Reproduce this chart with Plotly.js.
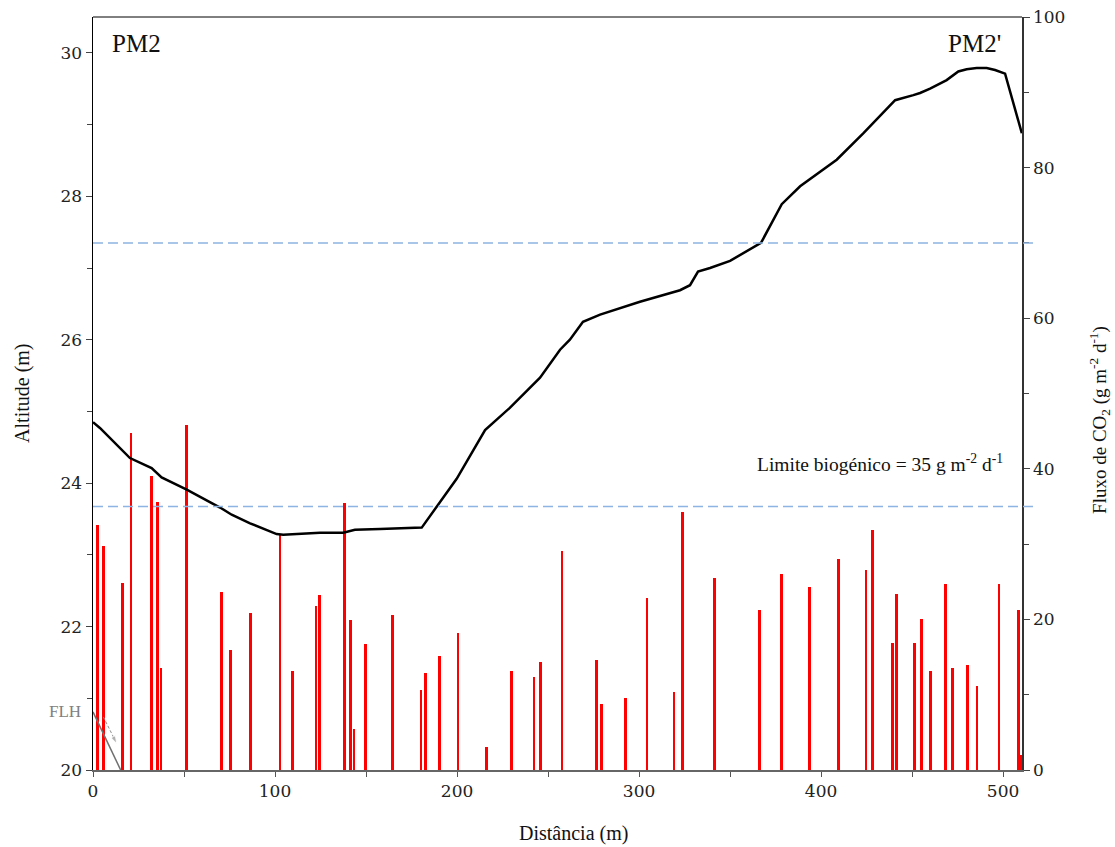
<!DOCTYPE html>
<html>
<head>
<meta charset="utf-8">
<script src="https://cdn.plot.ly/plotly-3.0.1.min.js"></script>
<style>html,body{margin:0;padding:0;background:#fff;}</style>
</head>
<body>
<div id="chart" style="width:1115px;height:847px;"></div>
<script>
// Altitude profile (m) vs distance (m)
const profileDist = [0, 3.8, 20.3, 32.2, 37.7, 51.5, 69.8, 76.2, 86.3, 100.9, 104.5, 122.9, 124.7, 137.5, 143.9, 157.7, 180.6, 199.8, 215.4, 229, 245.6, 256.6, 262, 269.2, 278.6, 300.5, 322.5, 328, 332.4, 339, 350, 367, 378.4, 388.5, 395.8, 408.6, 423.3, 428.7, 440.7, 450.7, 454.4, 459.9, 469, 475.4, 480, 485.5, 491, 495.6, 501.1, 510.3];
const profileAlt = [24.85, 24.77, 24.35, 24.21, 24.08, 23.91, 23.66, 23.56, 23.44, 23.29, 23.28, 23.30, 23.31, 23.31, 23.35, 23.36, 23.38, 24.06, 24.74, 25.05, 25.47, 25.86, 26.0, 26.25, 26.35, 26.53, 26.69, 26.76, 26.95, 27.0, 27.1, 27.35, 27.89, 28.14, 28.27, 28.51, 28.88, 29.02, 29.34, 29.41, 29.44, 29.5, 29.62, 29.74, 29.77, 29.79, 29.79, 29.76, 29.71, 28.88];

// CO2 flux (g m-2 d-1) at sampling points
const fluxDist = [2.4, 5.7, 16.3, 20.9, 32.2, 35.3, 37.4, 51.5, 70.5, 75.5, 86.4, 102.7, 109.7, 122.5, 124.4, 138.3, 141.4, 143.4, 149.8, 164.5, 180.2, 182.8, 190.3, 200.5, 216.3, 229.8, 242.3, 245.8, 257.7, 276.7, 279.3, 292.5, 304.4, 319.2, 323.8, 341.4, 366.3, 378.4, 393.6, 409.5, 424.7, 428.4, 439.4, 441.4, 451.3, 455.1, 460.3, 468.5, 472.4, 480.4, 485.7, 497.8, 508.6, 509.9];
const fluxVal = [32.5, 29.8, 24.9, 44.7, 39.1, 35.6, 13.5, 45.8, 23.6, 15.9, 20.9, 31.4, 13.2, 21.8, 23.3, 35.4, 19.9, 5.5, 16.7, 20.6, 10.6, 12.9, 15.2, 18.2, 3.05, 13.1, 12.4, 14.4, 29.1, 14.6, 8.8, 9.5, 22.9, 10.4, 34.2, 25.5, 21.2, 26.0, 24.3, 28.0, 26.5, 31.9, 16.9, 23.4, 16.9, 20.0, 13.1, 24.7, 13.5, 14.0, 11.1, 24.7, 21.2, 2.0];

// Reference flux levels (dashed)
const fluxLimits = [35, 70];

// FLH fault trace and arrow
const flhDist = [0, 15.2];
const flhAlt = [20.81, 20];
const flhArrowDist = [5.7, 13.0];
const flhArrowAlt = [20.74, 20.37];

const xTicks = [0, 100, 200, 300, 400, 500];

const serif = "Liberation Serif, Times New Roman, serif";
const tickSerif = "DejaVu Serif, serif";
const tickFont = {family: tickSerif, size: 17, color: '#222'};
const titleFont = {family: serif, size: 20, color: '#111'};

const traces = [
  {
    type: 'bar', x: fluxDist, y: fluxVal, yaxis: 'y', xaxis: 'x',
    width: 1.5, marker: {color: '#ff0000', line: {width: 0}},
    hoverinfo: 'x+y', showlegend: false
  },
  {
    type: 'scatter', mode: 'lines', x: profileDist, y: profileAlt, yaxis: 'y2',
    line: {color: '#000000', width: 2.5}, showlegend: false
  },
  {
    type: 'scatter', mode: 'lines', x: flhDist, y: flhAlt, yaxis: 'y2',
    line: {color: '#707070', width: 1.5}, showlegend: false
  },
  {
    type: 'scatter', mode: 'lines+markers', x: flhArrowDist, y: flhArrowAlt, yaxis: 'y2',
    line: {color: '#909090', width: 1, dash: '3px,2px'},
    marker: {symbol: ['circle', 'arrow'], size: [0, 8], color: '#909090', angleref: 'previous'},
    showlegend: false
  }
];

const shapes = fluxLimits.map(v => ({
  type: 'line', xref: 'paper', yref: 'y', x0: 0, x1: 1.014, y0: v, y1: v,
  line: {color: '#8db4e2', width: 1.5, dash: '10px,5px'}
}));
shapes.push({type: 'line', xref: 'paper', yref: 'paper', x0: 0, x1: 1, y0: 1, y1: 1,
  line: {color: '#000', width: 1}});

const layout = {
  width: 1115, height: 847,
  margin: {l: 93, r: 93, t: 17, b: 77},
  paper_bgcolor: '#fff', plot_bgcolor: '#fff',
  font: {family: serif, size: 16, color: '#222'},
  showlegend: false,
  bargap: 0,
  xaxis: {
    range: [0, 510.4], tickvals: xTicks, ticks: 'outside', ticklen: 5, tickcolor: '#555',
    minor: {ticks: 'outside', dtick: 50, tick0: 0, ticklen: 5, tickcolor: '#555'},
    showline: true, linecolor: '#666', linewidth: 2, showgrid: false, zeroline: false,
    tickfont: tickFont
  },
  yaxis: {
    side: 'right', range: [0, 100], dtick: 20, tick0: 0, ticks: 'outside', ticklen: 6,
    minor: {ticks: 'outside', dtick: 10, ticklen: 5},
    showline: true, linecolor: '#333', linewidth: 1.5, showgrid: false, zeroline: false,
    tickfont: tickFont
  },
  yaxis2: {
    overlaying: 'y', side: 'left', range: [20, 30.5], dtick: 2, tick0: 20, ticks: 'outside', ticklen: 6,
    minor: {ticks: 'outside', dtick: 1, ticklen: 5},
    showline: true, linecolor: '#000', linewidth: 1.5, showgrid: false, zeroline: false,
    tickfont: tickFont
  },
  shapes: shapes,
  annotations: [
    // axis titles
    {xref: 'paper', yref: 'paper', x: 0.517, y: -0.0837, xanchor: 'center', yanchor: 'middle',
     text: 'Distância (m)', showarrow: false, font: titleFont},
    {xref: 'paper', yref: 'paper', x: -0.076, y: 0.5, xanchor: 'center', yanchor: 'middle',
     text: 'Altitude (m)', textangle: -90, showarrow: false, font: titleFont},
    {xref: 'paper', yref: 'paper', x: 1.084, y: 0.465, xanchor: 'center', yanchor: 'middle',
     text: 'Fluxo de CO<sub>2</sub> (g m<sup>-2</sup> d<sup>-1</sup>)', textangle: -90, showarrow: false,
     font: {family: serif, size: 19, color: '#111'}},
    // labels
    {xref: 'paper', yref: 'paper', x: 0.018, y: 0.965, xanchor: 'left', yanchor: 'middle',
     text: 'PM2', showarrow: false, font: {family: serif, size: 25, color: '#111'}},
    {xref: 'paper', yref: 'paper', x: 0.9795, y: 0.965, xanchor: 'right', yanchor: 'middle',
     text: "PM2'", showarrow: false, font: {family: serif, size: 25, color: '#111'}},
    {xref: 'paper', yref: 'y', x: 0.9817, y: 40.8, xanchor: 'right', yanchor: 'middle',
     text: 'Limite biogénico = 35 g m<sup>-2</sup> d<sup>-1</sup>', showarrow: false,
     font: {family: serif, size: 19.5, color: '#111'}},
    {xref: 'paper', yref: 'y2', x: -0.011, y: 20.81, xanchor: 'right', yanchor: 'middle',
     text: 'FLH', showarrow: false, font: {family: serif, size: 17, color: '#808080'}}
  ]
};

Plotly.newPlot('chart', traces, layout, {displayModeBar: false, staticPlot: true});
</script>
</body>
</html>
